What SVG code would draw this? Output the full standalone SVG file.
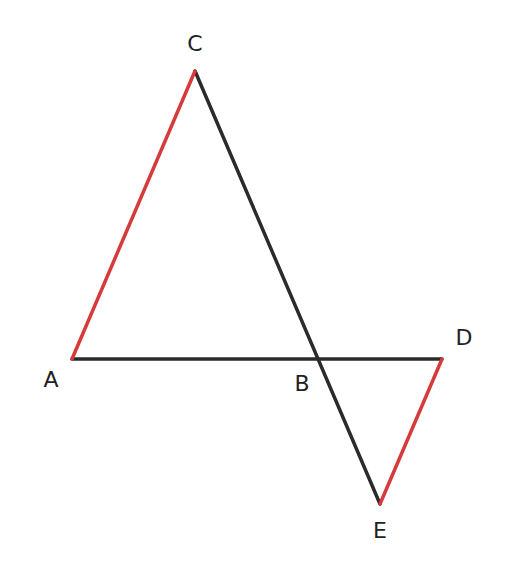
<svg xmlns="http://www.w3.org/2000/svg" width="514" height="576" viewBox="0 0 514 576">
<style>
.seg{stroke-width:3.5;stroke-linecap:round;fill:none}
.dark{stroke:#2b2b2b}
.red{stroke:#d63a3a}
.lbl{font-family:"DejaVu Sans",sans-serif;font-size:22px;fill:#222;text-anchor:middle}
</style>
<rect width="514" height="576" fill="#fff"/>
<g id="connectors">
<line class="seg dark" x1="72" y1="359" x2="442" y2="359"/>
<line class="seg dark" x1="195" y1="71" x2="380" y2="504"/>
<line class="seg red" x1="72" y1="359" x2="195" y2="71"/>
<line class="seg red" x1="442" y1="359" x2="380" y2="504"/>
</g>
<g id="A"><text class="lbl" x="51" y="387">A</text></g>
<g id="B"><text class="lbl" x="302" y="391">B</text></g>
<g id="C"><text class="lbl" x="195" y="51">C</text></g>
<g id="D"><text class="lbl" x="464" y="345">D</text></g>
<g id="E"><text class="lbl" x="380" y="538">E</text></g>
</svg>
